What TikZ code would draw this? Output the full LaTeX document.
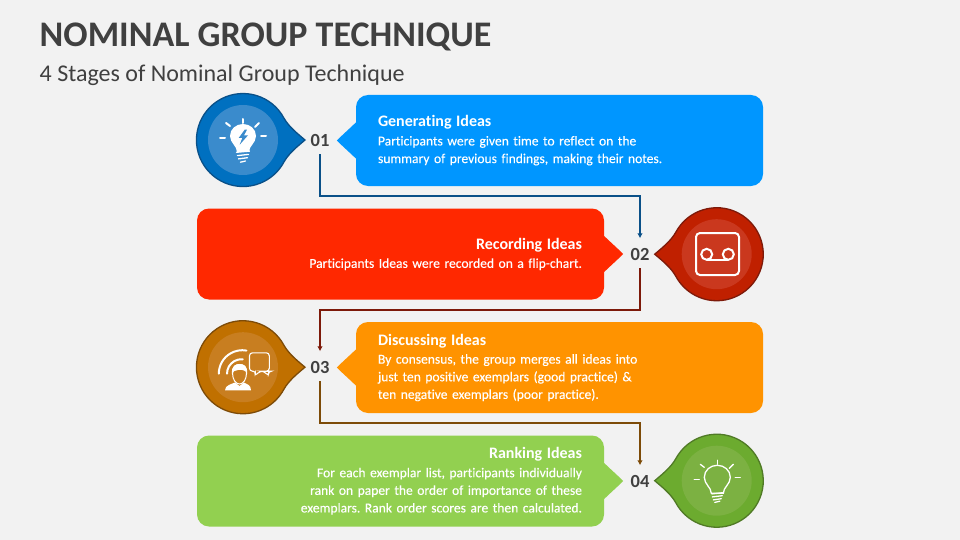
\documentclass[tikz,border=0pt]{standalone}
\usepackage{fontspec}
\setmainfont[Ligatures=NoCommon]{Carlito}
\newfontfamily\cardfont[FakeBold=0.25,Ligatures=NoCommon]{Carlito}
\usetikzlibrary{arrows.meta}
\definecolor{pagegray}{RGB}{242, 242, 242}
\definecolor{inkgray}{RGB}{64, 64, 64}
\definecolor{cardblue}{RGB}{0, 150, 255}
\definecolor{cardred}{RGB}{255, 40, 0}
\definecolor{cardorange}{RGB}{255, 147, 0}
\definecolor{cardgreen}{RGB}{146, 208, 80}
\definecolor{ringblue}{RGB}{0, 112, 192}
\definecolor{ringred}{RGB}{192, 32, 0}
\definecolor{ringorange}{RGB}{192, 112, 0}
\definecolor{ringgreen}{RGB}{108, 171, 47}
\definecolor{discblue}{RGB}{58, 139, 204}
\definecolor{discred}{RGB}{202, 56, 30}
\definecolor{discorange}{RGB}{200, 126, 32}
\definecolor{discgreen}{RGB}{124, 177, 66}
\definecolor{edgeblue}{RGB}{10, 80, 136}
\definecolor{edgered}{RGB}{125, 26, 10}
\definecolor{edgeorange}{RGB}{125, 75, 8}
\definecolor{edgegreen}{RGB}{80, 122, 38}
\newcommand{\cardhead}[1]{{\normalfont\bfseries\fontsize{16}{17.6}\selectfont #1}\\[1pt]}
\tikzset{
  card/.style={fill=#1, text=white, rounded corners=12pt, minimum width=407pt, minimum height=91pt,
    text width=363pt, inner xsep=22pt, inner ysep=0pt,
    font=\cardfont\frenchspacing\fontsize{13.55}{17.6}\selectfont},
  stagenum/.style={text=inkgray, font=\bfseries\fontsize{18.5}{18.5}\selectfont, minimum height=28pt, inner sep=0pt},
  link/.style={draw=#1, line width=1.6pt, -{Latex[length=5pt,width=5.5pt]}, shorten >=1.5pt},
  pics/cardtip/.style={code={
    \fill[#1] (1,-18) -- (0,-18) .. controls (-5,-13) and (-13,-6) .. (-19,0)
      .. controls (-13,6) and (-5,13) .. (0,18) -- (1,18) -- cycle;
  }},
  pics/bubble/.style n args={3}{code={
    \filldraw[fill=#1, draw=#2, line width=1.3pt] (62,0) .. controls (55,-6) and (46,-13) .. (41,-21.8)
      arc[start angle=-28, end angle=-332, radius=46.5]
      .. controls (46,13) and (55,6) .. (62,0) -- cycle;
    \fill[#3] (0,0) circle[radius=35];
  }},
  pics/bulb/.style n args={3}{code={
    \path[#1] (-6,15) .. controls (-6,9) and (-13,6) .. (-13,-1) .. controls (-13,-8) and (-7,-13) .. (0,-13)
      .. controls (7,-13) and (13,-8) .. (13,-1) .. controls (13,6) and (6,9) .. (6,15) -- cycle;
    \foreach \xa/\ya/\xb/\yb in {0/-18/0/-14, -23/1/-18/1, 23/-1/18/-1, -17/-14/-13/-11, 16/-14/12/-10}
      \draw[white, line width=#2, line cap=round] (\xa,\ya) -- (\xb,\yb);
    \foreach \ya/\wa in {#3}
      \draw[white, line width=1.3pt, line cap=round] (-\wa,\ya+0.6) -- (\wa,\ya-0.6);
  }}
}

\begin{document}
\begin{tikzpicture}[x=1pt, y=-1pt]
  \useasboundingbox (0,0) rectangle (960,540);
  \fill[pagegray] (0,0) rectangle (960,540);

  % Heading
  \node[anchor=west, inner sep=0pt, text=inkgray, font=\bfseries\fontsize{36}{40}\selectfont] (heading) at (39.5,37) {NOMINAL GROUP TECHNIQUE};
  \node[anchor=west, inner sep=0pt, text=inkgray, font=\fontsize{24}{28}\selectfont] (subheading) at (39.5,75) {4 Stages of Nominal Group Technique};

  % Cards
  \node[card=cardblue, align=left] (card1) at (559.5,140.5) {\cardhead{Generating Ideas}
    Participants were given time to reflect on the\\
    summary of previous findings, making their notes.};
  \node[card=cardred, align=right] (card2) at (400.5,254) {\cardhead{Recording Ideas}
    Participants Ideas were recorded on a flip-chart.};
  \node[card=cardorange, align=left] (card3) at (559.5,367.5) {\cardhead{Discussing Ideas}
    By consensus, the group merges all ideas into\\
    just ten positive exemplars (good practice) \&\\
    ten negative exemplars (poor practice).};
  \node[card=cardgreen, align=right] (card4) at (400.5,481) {\cardhead{Ranking Ideas}
    For each exemplar list, participants individually\\
    rank on paper the order of importance of these\\
    exemplars. Rank order scores are then calculated.};
  \pic at (card1.west) {cardtip=cardblue};
  \pic[xscale=-1] at (card2.east) {cardtip=cardred};
  \pic at (card3.west) {cardtip=cardorange};
  \pic[xscale=-1] at (card4.east) {cardtip=cardgreen};

  % Numbers
  \node[stagenum] (num1) at (320,140) {01};
  \node[stagenum] (num2) at (640,254) {02};
  \node[stagenum] (num3) at (320,367) {03};
  \node[stagenum] (num4) at (640,481) {04};

  % Links between the numbers
  \draw[link=edgeblue] (num1.south) -- ++(0,42) -| (num2.north);
  \draw[link=edgered] (num2.south) -- ++(0,42) -| (num3.north);
  \draw[link=edgeorange] (num3.south) -- ++(0,42) -| (num4.north);

  % Round badges
  \pic at (243,140) {bubble={ringblue}{edgeblue}{discblue}};
  \pic[xscale=-1] at (716.7,254.2) {bubble={ringred}{edgered}{discred}};
  \pic at (243,367.2) {bubble={ringorange}{edgeorange}{discorange}};
  \pic[xscale=-1] at (716.7,480.7) {bubble={ringgreen}{edgegreen}{discgreen}};

  % Bulb with bolt
  \pic at (243,137) {bulb={{fill=white}}{2pt}{14.7/6.5, 18/5.5, 21.3/4.5, 24.6/2.5}};
  \fill[discblue] (244.7,129.7) -- (238.7,138) -- (242.3,138) -- (239.7,144.7) -- (248,135.3) -- (244,135.3) -- (247,129.7) -- cycle;

  % Tape
  \draw[white, line width=2pt, rounded corners=4pt] (696,233) rectangle (739,275);
  \draw[white, line width=2pt] (706.7,254.3) circle[radius=5.5] (728.3,254.3) circle[radius=5.5];
  \draw[white, line width=2pt] (706.7,259.8) -- (728.3,259.8);

  % Person with speech bubble
  \draw[white, line width=2pt, line cap=round] (218.8,373.7) arc[start angle=-180, end angle=-80, radius=23.5];
  \draw[white, line width=2pt, line cap=round] (227,373.7) arc[start angle=-180, end angle=-85, radius=14.5];
  \fill[white] (225,390.3) .. controls (225,385) and (232,384) .. (235,382.5) -- (239.5,386) -- (244,382.5)
    .. controls (247,384) and (251,385) .. (251,390.3) -- cycle;
  \filldraw[fill=discorange, draw=white, line width=1pt] (232.5,373) .. controls (232.5,380) and (236,384) .. (239.5,384)
    .. controls (243,384) and (246.5,380) .. (246.5,373) .. controls (246.5,366) and (243,364.5) .. (239.5,364.5)
    .. controls (236,364.5) and (232.5,366) .. (232.5,373) -- cycle;
  \fill[white] (232,374) .. controls (231,366) and (236,364) .. (239.5,364) .. controls (244,364) and (248,366) .. (247,374)
    .. controls (246,370) and (242,369.5) .. (238,370) .. controls (235,370.5) and (233,371) .. (232,374) -- cycle;
  \filldraw[fill=discorange, draw=white, line width=1.1pt, rounded corners=3pt] (249.5,352.8) -- (269.3,352.8) -- (269.3,371.2)
    -- (268.5,371.2) -- (268.5,376) -- (264,371.2) -- (260,371.2) -- (254.5,376) -- (256,371.2) -- (249.5,371.2) -- cycle;

  % Outline bulb
  \pic at (717.3,478.3) {bulb={{draw=white, line width=1.3pt}}{1.3pt}{15/5.5, 18/5, 21/4, 23.5/2.5}};
\end{tikzpicture}
\end{document}
